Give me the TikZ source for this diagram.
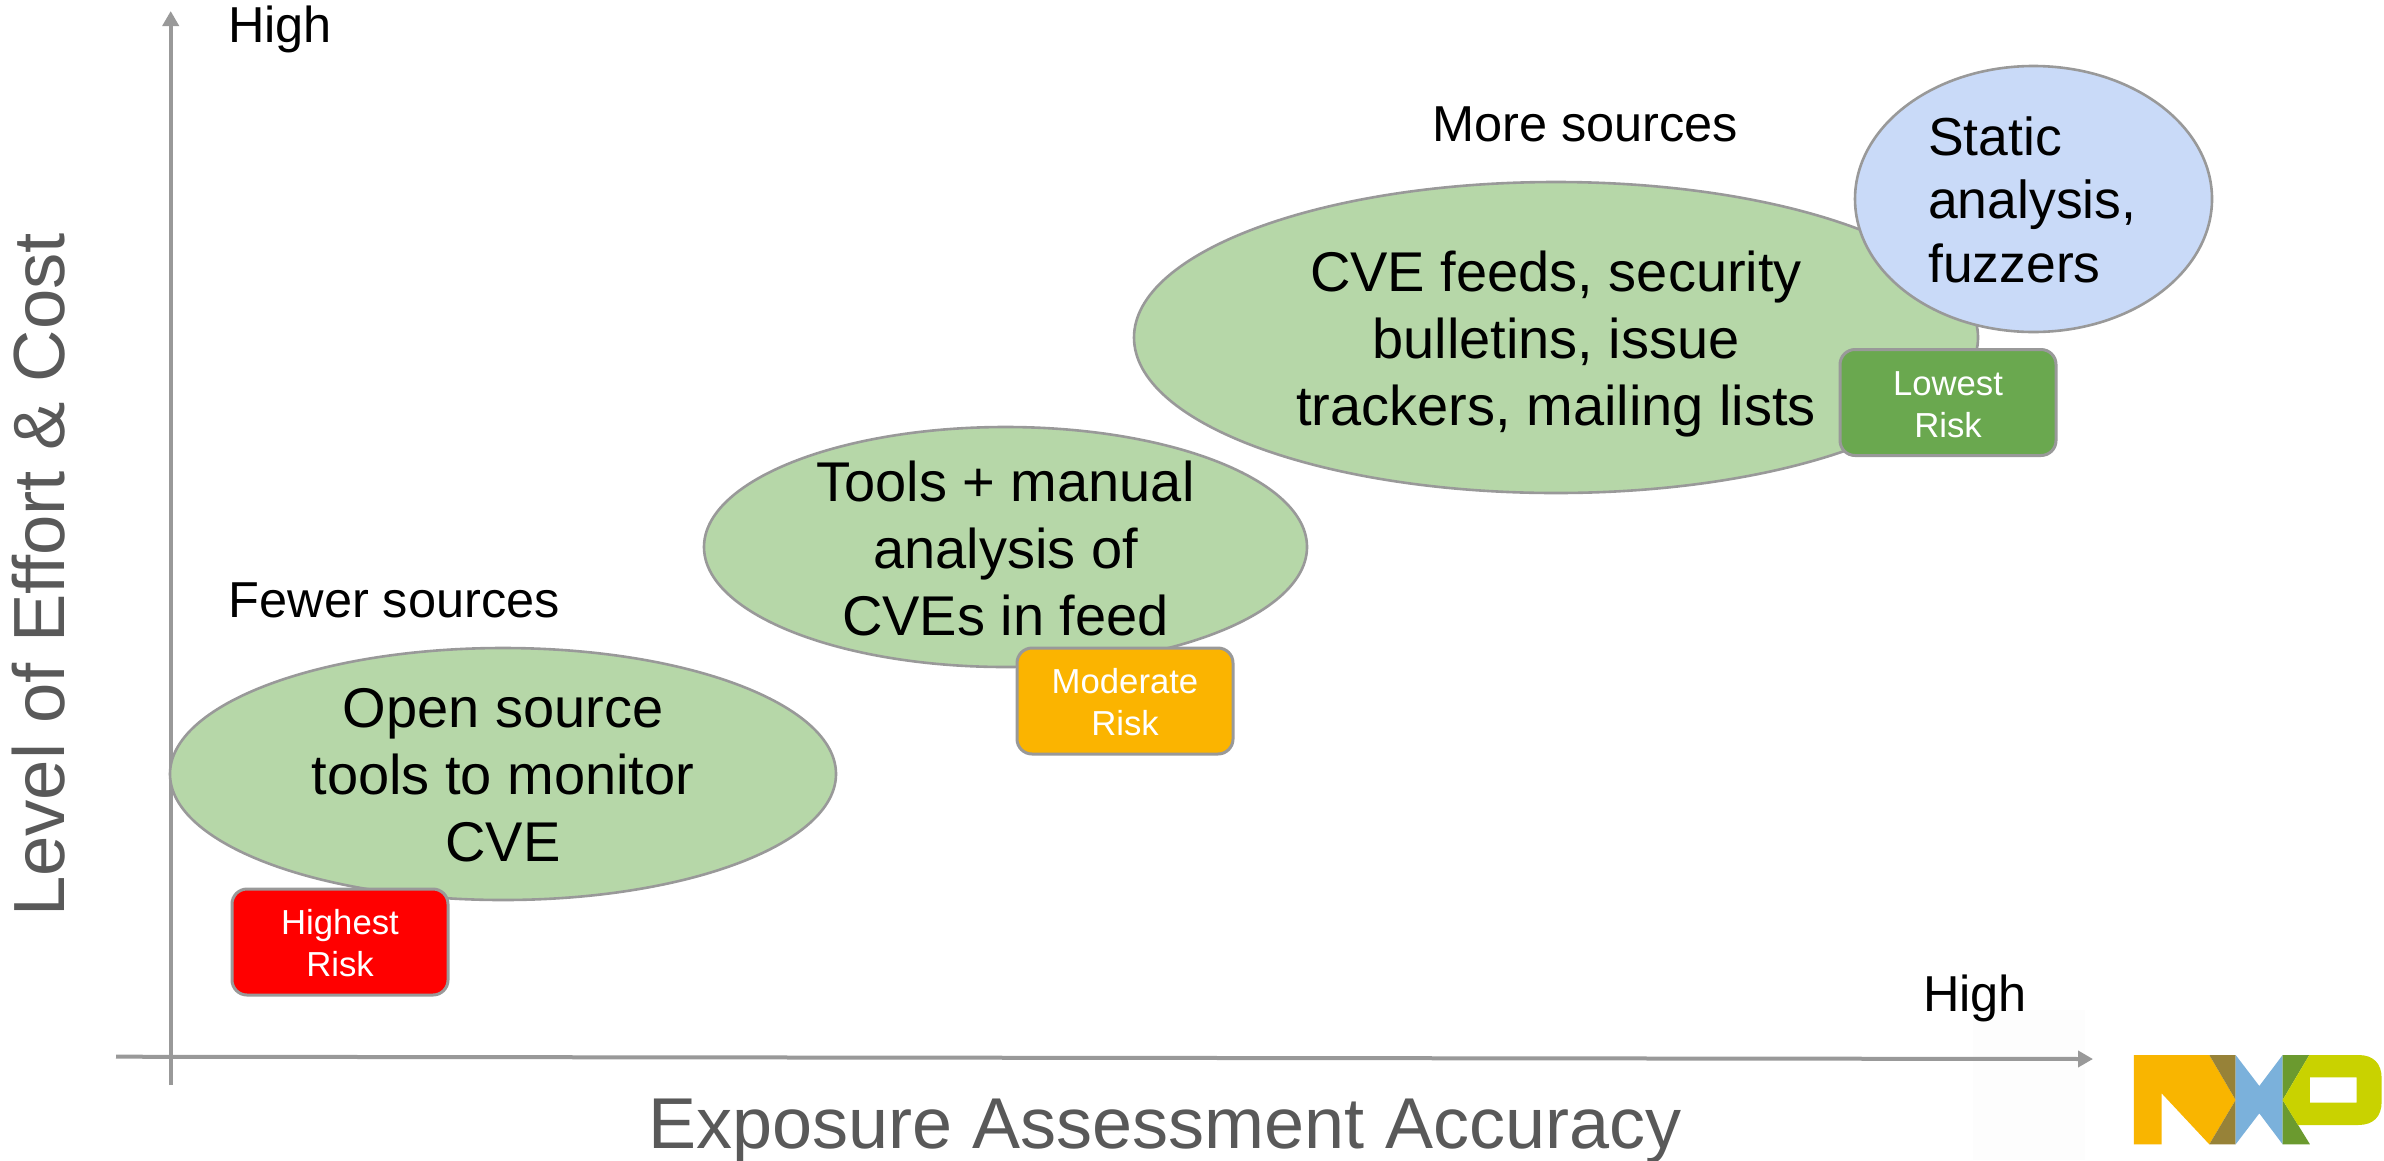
\documentclass[tikz,border=0pt]{standalone}
\usepackage{fontspec}
\setmainfont{Liberation Sans}
\usetikzlibrary{arrows.meta,shapes.geometric}
\definecolor{axisgrey}{HTML}{999999}
\definecolor{labelgrey}{HTML}{595959}
\definecolor{softgreen}{HTML}{B6D7A8}
\definecolor{softblue}{HTML}{C9DAF8}
\definecolor{riskred}{HTML}{FF0000}
\definecolor{riskamber}{HTML}{FBB400}
\definecolor{riskgreen}{HTML}{6AA84F}
\definecolor{nxporange}{HTML}{F9B500}
\definecolor{nxpolive}{HTML}{978238}
\definecolor{nxpblue}{HTML}{7BB1DB}
\definecolor{nxpgreen}{HTML}{6B9A2F}
\definecolor{nxplime}{HTML}{C9D200}
\definecolor{faint}{HTML}{FDFDFD}
\newcommand{\riskstrut}{\rule{0pt}{28.3pt}}
\tikzset{
  axisline/.style={draw=axisgrey,line width=4pt,-{Triangle[length=15pt,width=16pt]}},
  blob/.style={ellipse,draw=axisgrey,line width=2.6pt,inner sep=0pt,outer sep=0pt},
  greenblob/.style={blob,fill=softgreen},
  blobtext/.style={inner sep=0pt,anchor=base,align=center,text=black,font=\fontsize{56}{67}\selectfont},
  riskbox/.style={rectangle,rounded corners=15pt,draw=axisgrey,line width=3pt,minimum width=216pt,minimum height=106pt,inner sep=0pt,text=white,align=center,font=\fontsize{34.7}{42}\selectfont},
  note/.style={inner sep=0pt,anchor=base west,text=black,font=\fontsize{50.5}{58}\selectfont},
  axislabel/.style={inner sep=0pt,anchor=base,text=labelgrey,font=\fontsize{72}{80}\selectfont},
}
\begin{document}
\begin{tikzpicture}[x=1pt,y=-1pt]
\useasboundingbox (0,0) rectangle (2384,1160);
\fill[white] (0,0) rectangle (2384,1160);
\fill[faint] (1973,1010) rectangle (2085,1160);

\coordinate (ybottom) at (170.7,1085);
\coordinate (ytop) at (170.7,11);
\coordinate (xleft) at (116,1056.7);
\coordinate (xright) at (2093,1059);
\draw[axisline] (ybottom) -- (ytop);
\draw[axisline] (xleft) -- (xright);

\node[note] (hightop) at (228,42) {High};
\node[note] (highright) at (1923,1011) {High};
\node[note] (fewer) at (228.5,617) {Fewer sources};
\node[note] (more) at (1432,141) {More sources};
\node[axislabel,rotate=90,font=\fontsize{72.5}{80}\selectfont] (ylabel) at (64,575) {Level of Effort \& Cost};
\node[axislabel] (xlabel) at (1165,1148) {Exposure Assessment Accuracy};

\node[greenblob,minimum width=666pt,minimum height=252pt] (e1) at (503,774) {};
\node[blobtext] (t1) at (503,861.5) {Open source\\tools to monitor\\CVE};
\node[riskbox,fill=riskred] (r1) at (340,942) {\riskstrut Highest\\Risk};

\node[greenblob,minimum width=603pt,minimum height=240pt] (e2) at (1005.5,547) {};
\node[blobtext] (t2) at (1005.5,635.5) {Tools + manual\\analysis of\\CVEs in feed};
\node[riskbox,fill=riskamber] (r2) at (1125,701) {\riskstrut Moderate\\Risk};

\node[greenblob,minimum width=844pt,minimum height=311pt] (e3) at (1556,337.5) {};
\node[blobtext] (t3) at (1556,425.5) {CVE feeds, security\\bulletins, issue\\trackers, mailing lists};
\node[blob,fill=softblue,minimum width=357pt,minimum height=266pt] (e4) at (2033.5,199) {};
\node[blobtext,align=left,anchor=base west,font=\fontsize{53.5}{63.5}\selectfont] (t4) at (1928,282) {Static\\analysis,\\fuzzers};
\node[riskbox,fill=riskgreen] (r3) at (1948,402.5) {\riskstrut Lowest\\Risk};

\begin{scope}[x=0.33333pt,y=-0.33333pt,shift={(5850,2940)}]
\fill[nxporange] (552,225) -- (778,225) -- (857,360) -- (778,493) -- (635,340) -- (635,493) -- (552,493) -- cycle;
\fill[nxpolive] (778,225) -- (857,225) -- (857,360) -- cycle;
\fill[nxpolive] (857,360) -- (857,493) -- (778,493) -- cycle;
\fill[nxpblue] (857,225) -- (928,318) -- (998,225) -- (998,493) -- (928,400) -- (857,493) -- cycle;
\fill[nxpgreen] (998,225) -- (1078,225) -- (998,360) -- cycle;
\fill[nxpgreen] (998,360) -- (1080,493) -- (998,493) -- cycle;
\fill[nxplime,even odd rule] (1078,225) -- (1225,225) .. controls (1270,225) and (1295,250) .. (1295,295) -- (1295,365) .. controls (1295,410) and (1270,435) .. (1225,435) -- (1044,435) -- (998,360) -- cycle
  (1080,292) -- (1220,292) -- (1220,368) -- (1080,368) -- cycle;
\end{scope}
\end{tikzpicture}
\end{document}
